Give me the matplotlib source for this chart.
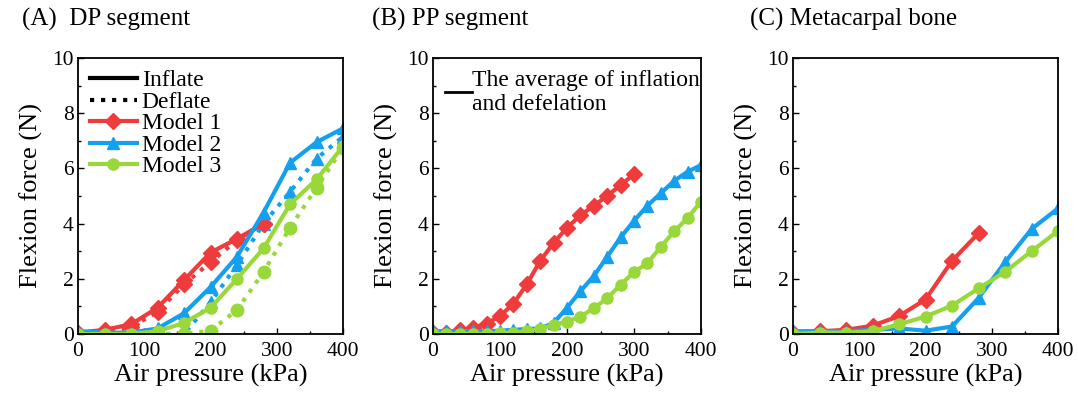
import numpy as np
import matplotlib
matplotlib.use("Agg")
import matplotlib.pyplot as plt
from matplotlib.lines import Line2D
from matplotlib.ticker import MultipleLocator

plt.rcParams['font.family'] = ['Liberation Serif', 'DejaVu Serif']

red = '#EF3B3B'
blue = '#14A0EE'
green = '#98D83A'

# (A) DP segment, inflate / deflate, every 40 kPa
xa = [0, 40, 80, 120, 160, 200, 240, 280, 320, 360, 400]
a_m1_in = [0.05, 0.15, 0.35, 0.95, 1.95, 2.95, 3.45, 4.0]
a_m1_de = [0.0, 0.05, 0.25, 0.8, 1.8, 2.6, 3.4, 4.0]
a_m2_in = [0.1, 0.05, 0.05, 0.2, 0.75, 1.7, 2.8, 4.4, 6.2, 6.95, 7.45]
a_m2_de = [0.05, 0.0, 0.0, 0.0, 0.0, 1.15, 2.5, 4.0, 5.15, 6.35, 7.15]
a_m3_in = [0.0, 0.0, 0.0, 0.1, 0.4, 0.95, 2.0, 3.1, 4.7, 5.6, 6.8]
a_m3_de = [0.0, 0.0, 0.0, 0.0, 0.0, 0.12, 0.87, 2.25, 3.85, 5.3, 6.75]

# (B) PP segment, average, every 20 kPa
xb = list(range(0, 401, 20))
b_m1 = [0.05, 0.05, 0.15, 0.22, 0.38, 0.65, 1.1, 1.8, 2.65, 3.3, 3.85, 4.3,
        4.65, 5.0, 5.4, 5.78]
b_m2 = [0.1, 0.1, 0.1, 0.1, 0.1, 0.12, 0.15, 0.18, 0.2, 0.4, 0.95, 1.55,
        2.1, 2.8, 3.5, 4.1, 4.65, 5.1, 5.55, 5.88, 6.12]
b_m3 = [0.0, 0.0, 0.0, 0.0, 0.0, 0.02, 0.05, 0.1, 0.18, 0.33, 0.45, 0.63,
        0.93, 1.3, 1.78, 2.25, 2.56, 3.16, 3.72, 4.2, 4.8]

# (C) Metacarpal bone, every 40 kPa
xc = [0, 40, 80, 120, 160, 200, 240, 280, 320, 360, 400]
c_m1 = [0.05, 0.1, 0.15, 0.3, 0.65, 1.25, 2.65, 3.65]
c_m2 = [0.1, 0.1, 0.1, 0.15, 0.2, 0.12, 0.27, 1.3, 2.6, 3.8, 4.55]
c_m3 = [0.0, 0.05, 0.05, 0.1, 0.35, 0.63, 1.03, 1.65, 2.25, 3.0, 3.73]

titles = ['(A)  DP segment', '(B) PP segment', '(C) Metacarpal bone']
title_x = [22, 372, 750]
ax_left = [78, 433, 793]
ax_width = [265, 268, 265]

fig = plt.figure(figsize=(10.78, 3.99), dpi=100)
W, H = 1078, 399
axes = []
for i in range(3):
    ax = fig.add_axes([ax_left[i] / W, (H - 334) / H, ax_width[i] / W, 276 / H])
    axes.append(ax)
    fig.text(title_x[i] / W, 1 - 19 / H, titles[i], fontsize=18, va='center', ha='left')

lw = 3
ms = 8

ax = axes[0]
ax.plot(xa[:len(a_m1_de)], a_m1_de, ':', color=red, lw=lw, marker='D', ms=ms)
ax.plot(xa, a_m2_de, ':', color=blue, lw=lw, marker='^', ms=ms)
ax.plot(xa, a_m3_de, ':', color=green, lw=lw, marker='o', ms=ms + 1)
ax.plot(xa[:len(a_m1_in)], a_m1_in, '-', color=red, lw=lw, marker='D', ms=ms)
ax.plot(xa, a_m2_in, '-', color=blue, lw=lw, marker='^', ms=ms)
ax.plot(xa, a_m3_in, '-', color=green, lw=lw, marker='o', ms=ms)
handles = [Line2D([], [], color='black', lw=lw, ls='-'),
           Line2D([], [], color='black', lw=lw, ls=':'),
           Line2D([], [], color=red, lw=lw, marker='D', ms=ms),
           Line2D([], [], color=blue, lw=lw, marker='^', ms=ms),
           Line2D([], [], color=green, lw=lw, marker='o', ms=ms)]
ax.legend(handles, ['Inflate', 'Deflate', 'Model 1', 'Model 2', 'Model 3'],
          loc='upper left', frameon=False, fontsize=17, handlelength=2.0,
          handletextpad=0.2, labelspacing=0.0, borderaxespad=0.1,
          bbox_to_anchor=(0.0, 1.0))

ax = axes[1]
ax.plot(xb[:len(b_m1)], b_m1, '-', color=red, lw=lw, marker='D', ms=ms)
ax.plot(xb, b_m2, '-', color=blue, lw=lw, marker='^', ms=ms)
ax.plot(xb, b_m3, '-', color=green, lw=lw, marker='o', ms=ms)
ax.legend([Line2D([], [], color='black', lw=2)],
          ['The average of inflation\nand defelation'],
          loc='upper left', frameon=False, fontsize=17, handlelength=1.15,
          handletextpad=0.0, borderaxespad=0.1, bbox_to_anchor=(0.0, 1.0),
          labelspacing=0.0)

ax = axes[2]
ax.plot(xc[:len(c_m1)], c_m1, '-', color=red, lw=lw, marker='D', ms=ms)
ax.plot(xc, c_m2, '-', color=blue, lw=lw, marker='^', ms=ms)
ax.plot(xc, c_m3, '-', color=green, lw=lw, marker='o', ms=ms)

for ax in axes:
    ax.set_xlim(0, 400)
    ax.set_ylim(0, 10)
    ax.xaxis.set_major_locator(MultipleLocator(100))
    ax.xaxis.set_minor_locator(MultipleLocator(50))
    ax.yaxis.set_major_locator(MultipleLocator(2))
    ax.yaxis.set_minor_locator(MultipleLocator(1))
    ax.tick_params(which='both', direction='in', labelsize=15.5)
    ax.tick_params(axis='x', pad=6)
    ax.tick_params(axis='y', pad=3)
    ax.tick_params(which='major', length=4, width=1)
    ax.tick_params(which='minor', length=2.5, width=1)
    for s in ax.spines.values():
        s.set_linewidth(1.3)
    ax.set_xlabel('Air pressure (kPa)', fontsize=19, labelpad=2)
    ax.set_ylabel('Flexion force (N)', fontsize=19, labelpad=7)

fig.savefig('out.png', dpi=100)
